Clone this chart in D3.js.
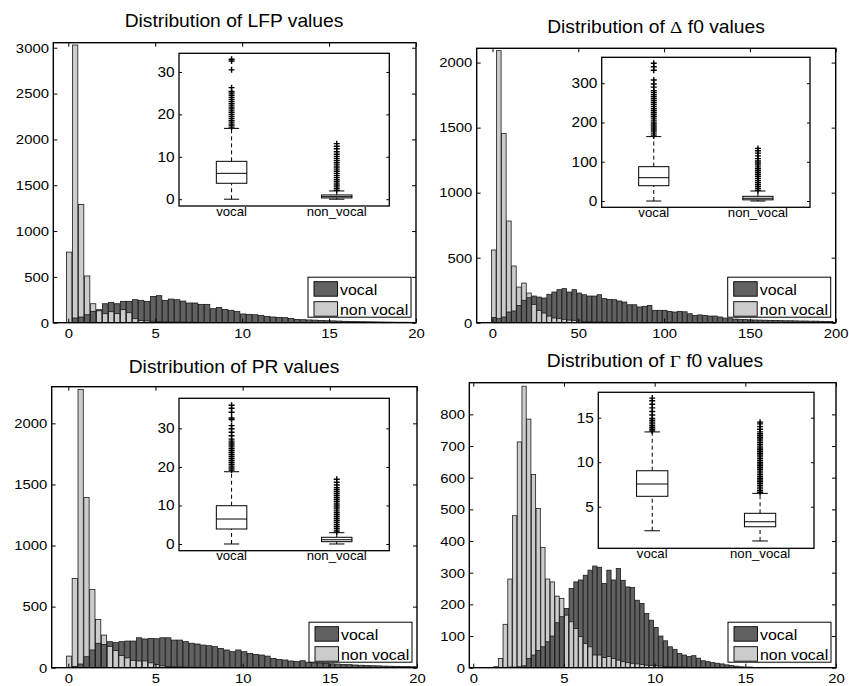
<!DOCTYPE html>
<html>
<head>
<meta charset="utf-8">
<script src="https://cdn.jsdelivr.net/npm/d3@7"></script>
<style>
  body { margin: 0; background: #fff; }
  text { font-family: "Liberation Sans", Arial, sans-serif; fill: #000; }
</style>
</head>
<body>
<svg id="chart" width="849" height="686"></svg>
<script>
// series / category names
const seriesNames = ["vocal", "non vocal"];
const boxCategories = ["vocal", "non_vocal"];

// LFP histogram (bin centres start at 0.05, width 0.345)
const lfpBins = { start: 0.05, width: 0.345 };
const lfpVocal = [0, 51, 62, 87, 124, 142, 207, 222, 207, 233, 233, 251, 244, 233, 287, 295, 244, 258, 251, 236,
  215, 215, 200, 200, 153, 167, 145, 135, 124, 95, 91, 87, 80, 69, 62, 58, 55, 47, 36, 33,
  30, 28, 25, 22, 20, 18, 15, 14, 12, 11, 10, 9, 8, 7, 6, 5, 5, 4];
const lfpNonVocal = [770, 3030, 1290, 510, 207, 130, 98, 120, 98, 142, 109, 44, 25, 20, 15, 12, 10, 8, 7, 6,
  5, 4, 3, 3, 2, 2, 2, 1, 1, 1, 1, 1];

// delta f0 histogram (start 0.77, width 2.93)
const dfBins = { start: 0.77, width: 2.93 };
const dfVocal = [40, 31, 44, 82, 90, 133, 172, 192, 205, 197, 190, 218, 236, 254, 262, 236, 254, 228, 215, 205,
  205, 215, 185, 179, 177, 167, 159, 138, 138, 121, 126, 133, 95, 95, 95, 87, 82, 87, 84, 69,
  56, 60, 56, 51, 51, 44, 36, 31, 28, 26, 24, 22, 21, 20, 19, 18, 17, 16, 15, 15,
  14, 13, 13, 12, 12, 11, 10, 10];
const dfNonVocal = [559, 2092, 1456, 782, 436, 274, 305, 228, 141, 95, 74, 51, 36, 31, 26, 20, 18, 12, 10, 8,
  6, 5, 4, 3, 3, 2, 2, 1, 1, 1];

// PR histogram (start 0.04, width 0.335)
const prBins = { start: 0.04, width: 0.335 };
const prVocal = [0, 10, 30, 90, 145, 200, 190, 213, 205, 213, 218, 218, 245, 235, 240, 237, 245, 245, 226, 226,
  213, 200, 194, 185, 180, 172, 158, 145, 131, 145, 131, 117, 109, 104, 95, 76, 68, 63, 55, 50,
  57, 45, 40, 37, 35, 32, 30, 27, 25, 22, 20, 18, 16, 15, 13, 12, 11, 10, 9, 8];
const prNonVocal = [95, 731, 2277, 1393, 641, 395, 267, 175, 140, 100, 80, 60, 55, 55, 40, 25, 15, 10, 8, 6,
  5, 4, 3, 3, 2, 2, 1, 1, 1];

// gamma f0 histogram (start 0.2, width 0.26)
const gfBins = { start: 0.2, width: 0.26 };
const gfVocal = [0, 0, 0, 0, 0, 1, 1, 2, 2, 3, 6, 29, 40, 54, 66, 82, 100, 142, 161, 187,
  250, 271, 277, 292, 308, 321, 317, 266, 308, 277, 313, 276, 255, 253, 213, 203, 171, 150, 127, 100,
  85, 66, 58, 45, 40, 35, 38, 30, 22, 19, 16, 14, 12, 9, 7, 5, 3, 2, 2, 1,
  1, 1];
const gfNonVocal = [0, 0, 0, 0, 3, 29, 137, 280, 480, 713, 889, 785, 610, 503, 380, 280, 271, 226, 219, 166,
  145, 124, 98, 76, 66, 40, 40, 32, 35, 29, 24, 19, 16, 14, 12, 10, 8, 7, 6, 5,
  4, 3, 3, 2, 2, 1, 1];

// boxplot stats: [lower whisker, q1, median, q3, upper whisker]
const lfpBoxVocal = [0, 3.76, 6.1, 8.93, 16.7];
const lfpBoxNonVocal = [0, 0.3, 0.6, 1.0, 1.95];
const lfpOutVocal = [17, 17.5, 18, 18.5, 19, 19.5, 20, 20.5, 21, 21.5, 22, 22.5, 23, 23.5, 24, 24.5, 25, 25.4, 26.3, 30.5, 32.6, 33.0];
const lfpOutNonVocal = [2.1, 2.6, 3.1, 3.6, 4.1, 4.6, 5.1, 5.6, 6.1, 6.6, 7.1, 7.6, 8.1, 8.6, 9.1, 9.6, 10.1, 10.6, 11.2, 11.9, 12.5, 13.1];

const dfBoxVocal = [0, 39, 59.4, 87.5, 164];
const dfBoxNonVocal = [0, 3, 7, 12, 25.5];
const dfOutVocal = [166, 171, 176, 181, 186, 191, 196, 201, 206, 211, 216, 221, 226, 231, 236, 241, 246, 251, 256, 261,
  266, 271, 276, 281, 290, 298, 308, 333, 342, 351];
const dfOutNonVocal = [27, 32, 37, 42, 47, 52, 57, 62, 67, 72, 77, 82, 87, 92, 97, 102, 108, 115, 122, 128, 134];

const prBoxVocal = [0, 3.89, 6.48, 9.93, 18.75];
const prBoxNonVocal = [0, 0.6, 1.1, 1.74, 2.93];
const prOutVocal = [19.2, 19.7, 20.2, 20.7, 21.2, 21.7, 22.2, 22.7, 23.2, 23.7, 24.2, 24.7, 25.2, 25.7, 26.2, 26.7, 27.2,
  28.1, 29.0, 29.9, 30.7, 32.3, 32.7, 34.2, 35.2, 36.0];
const prOutNonVocal = [3.1, 3.6, 4.1, 4.6, 5.1, 5.6, 6.1, 6.6, 7.1, 7.6, 8.1, 8.6, 9.1, 9.6, 10.1, 10.6, 11.1, 11.6, 12.1,
  12.6, 13.1, 13.6, 14.1, 14.6, 15.3, 16.0, 16.8];

const gfBoxVocal = [2.3, 6.17, 7.55, 9.04, 13.4];
const gfBoxNonVocal = [1.15, 2.75, 3.31, 4.26, 6.5];
const gfOutVocal = [13.5, 13.7, 13.9, 14.1, 14.3, 14.5, 14.7, 14.9, 15.3, 15.7, 16.1, 16.5, 16.9, 17.2];
const gfOutNonVocal = [6.6, 6.8, 7.0, 7.2, 7.4, 7.6, 7.8, 8.0, 8.2, 8.4, 8.6, 8.8, 9.0, 9.2, 9.4, 9.6, 9.8, 10.0,
  10.2, 10.4, 10.6, 10.8, 11.0, 11.2, 11.4, 11.6, 11.8, 12.0, 12.2, 12.4, 12.6, 12.8, 13.0, 13.2, 13.4,
  13.7, 14.0, 14.3, 14.5];

// tick values
const ticks0to20 = [0, 5, 10, 15, 20];
const ticks0to200 = [0, 50, 100, 150, 200];

const seriesFill = ["#616161", "#cccccc"];
const SX = 1.1; // glyphs in the picture are a bit wide

const panels = [
  {
    title: [{ s: "Distribution of LFP values" }], titleX: 234, titleY: 27.3,
    frame: { l: 53.3, r: 416, t: 42.7, b: 322.7 }, xDomain: [-0.86, 20], yMax: 3055,
    xTicks: ticks0to20, yTicks: d3.range(0, 3001, 500),
    bins: lfpBins, vocal: lfpVocal, nonVocal: lfpNonVocal,
    inset: { l: 179, r: 389.3, t: 53.3, b: 206, yDomain: [-1.6, 34.4], yTicks: [0, 10, 20, 30] },
    boxes: [lfpBoxVocal, lfpBoxNonVocal], outliers: [lfpOutVocal, lfpOutNonVocal]
  },
  {
    title: [{ s: "Distribution of " }, { s: "\u0394", greek: true }, { s: " f0 values" }], titleX: 656, titleY: 32.7,
    frame: { l: 476.7, r: 835.7, t: 48.3, b: 322.7 }, xDomain: [-9.2, 200], yMax: 2110,
    xTicks: ticks0to200, yTicks: d3.range(0, 2001, 500),
    bins: dfBins, vocal: dfVocal, nonVocal: dfNonVocal,
    inset: { l: 601.7, r: 810, t: 57.3, b: 207.3, yDomain: [-16, 366], yTicks: [0, 100, 200, 300] },
    boxes: [dfBoxVocal, dfBoxNonVocal], outliers: [dfOutVocal, dfOutNonVocal]
  },
  {
    title: [{ s: "Distribution of PR values" }], titleX: 234, titleY: 373.3,
    frame: { l: 51.7, r: 417, t: 386.7, b: 667.7 }, xDomain: [-0.95, 20], yMax: 2300,
    xTicks: ticks0to20, yTicks: d3.range(0, 2001, 500),
    bins: prBins, vocal: prVocal, nonVocal: prNonVocal,
    inset: { l: 179, r: 389.3, t: 398.3, b: 550.7, yDomain: [-1.74, 37.8], yTicks: [0, 10, 20, 30] },
    boxes: [prBoxVocal, prBoxNonVocal], outliers: [prOutVocal, prOutNonVocal]
  },
  {
    title: [{ s: "Distribution of " }, { s: "\u0393", greek: true }, { s: " f0 values" }], titleX: 655, titleY: 366.7,
    frame: { l: 469.3, r: 836, t: 382.7, b: 667.7 }, xDomain: [-0.22, 20], yMax: 900,
    xTicks: ticks0to20, yTicks: d3.range(0, 801, 100),
    bins: gfBins, vocal: gfVocal, nonVocal: gfNonVocal,
    inset: { l: 598.3, r: 814, t: 392.3, b: 548.3, yDomain: [0.33, 17.85], yTicks: [5, 10, 15] },
    boxes: [gfBoxVocal, gfBoxNonVocal], outliers: [gfOutVocal, gfOutNonVocal]
  }
];

const svg = d3.select("#chart");

function styleAxis(g, size, showText) {
  g.attr("font-size", null).attr("font-family", null);
  g.select(".domain").remove();
  g.selectAll(".tick line").attr("stroke", "#000");
  g.selectAll("text")
    .attr("font-size", size)
    .attr("transform", `scale(${SX},1)`)
    .style("display", showText ? null : "none");
}

function drawPanel(p, idx) {
  const f = p.frame;
  const x = d3.scaleLinear().domain(p.xDomain).range([f.l, f.r]);
  const y = d3.scaleLinear().domain([0, p.yMax]).range([f.b, f.t]);

  // title
  const t = svg.append("text")
    .attr("transform", `translate(${p.titleX},${p.titleY}) scale(${SX},1)`)
    .attr("text-anchor", "middle")
    .attr("font-size", 17.5);
  p.title.forEach(part => {
    t.append("tspan")
      .style("font-family", part.greek ? "'Liberation Serif', 'Times New Roman', serif" : null)
      .text(part.s);
  });

  const clipId = "clip" + idx;
  svg.append("clipPath").attr("id", clipId)
    .append("rect")
    .attr("x", f.l).attr("y", f.t)
    .attr("width", f.r - f.l).attr("height", f.b - f.t);

  // both histograms; the shorter bar of each bin sits in front
  const bars = [];
  p.vocal.forEach((v, i) => bars.push({ c: p.bins.start + i * p.bins.width, v: v, s: 0 }));
  p.nonVocal.forEach((v, i) => bars.push({ c: p.bins.start + i * p.bins.width, v: v, s: 1 }));
  bars.sort((a, b) => b.v - a.v);
  const hw = p.bins.width * 0.45;

  svg.append("g").attr("clip-path", `url(#${clipId})`)
    .selectAll("rect")
    .data(bars.filter(d => d.v > 0))
    .join("rect")
    .attr("x", d => x(d.c - hw))
    .attr("width", d => x(d.c + hw) - x(d.c - hw))
    .attr("y", d => y(d.v))
    .attr("height", d => y(0) - y(d.v))
    .attr("fill", d => seriesFill[d.s])
    .attr("stroke", "#1a1a1a")
    .attr("stroke-width", 0.8);

  // axes, ticks pointing inwards on all sides
  svg.append("g").attr("transform", `translate(0,${f.b})`)
    .call(d3.axisBottom(x).tickValues(p.xTicks).tickSizeInner(-4).tickSizeOuter(0).tickPadding(6))
    .call(g => styleAxis(g, 13.5, true));
  svg.append("g").attr("transform", `translate(0,${f.t})`)
    .call(d3.axisTop(x).tickValues(p.xTicks).tickSizeInner(-4).tickSizeOuter(0))
    .call(g => styleAxis(g, 13.5, false));
  svg.append("g").attr("transform", `translate(${f.l},0)`)
    .call(d3.axisLeft(y).tickValues(p.yTicks).tickFormat(d3.format("d")).tickSizeInner(-4).tickSizeOuter(0).tickPadding(4))
    .call(g => styleAxis(g, 13.5, true));
  svg.append("g").attr("transform", `translate(${f.r},0)`)
    .call(d3.axisRight(y).tickValues(p.yTicks).tickSizeInner(-4).tickSizeOuter(0))
    .call(g => styleAxis(g, 13.5, false));

  svg.append("rect")
    .attr("x", f.l).attr("y", f.t)
    .attr("width", f.r - f.l).attr("height", f.b - f.t)
    .attr("fill", "none").attr("stroke", "#000").attr("stroke-width", 1.4);

  // legend
  const lw = 103, lh = 40;
  const lx = f.r - 5 - lw, ly = f.b - 5.5 - lh;
  const lg = svg.append("g").attr("transform", `translate(${lx},${ly})`);
  lg.append("rect").attr("width", lw).attr("height", lh)
    .attr("fill", "#fff").attr("stroke", "#000").attr("stroke-width", 1);
  seriesNames.forEach((name, i) => {
    lg.append("rect")
      .attr("x", 6).attr("y", 4.5 + i * 20)
      .attr("width", 23.5).attr("height", 14.5)
      .attr("fill", seriesFill[i]).attr("stroke", "#000").attr("stroke-width", 0.9);
    lg.append("text")
      .attr("transform", `translate(32,${18 + i * 20}) scale(${SX},1)`)
      .attr("font-size", 14.5)
      .text(name);
  });

  drawInset(p);
}

function drawInset(p) {
  const ins = p.inset;
  const bx = d3.scalePoint().domain(boxCategories).range([ins.l, ins.r]).padding(0.5);
  const by = d3.scaleLinear().domain(ins.yDomain).range([ins.b, ins.t]);
  const boxW = bx.step() * 0.29;
  const capW = boxW * 0.5;

  svg.append("rect")
    .attr("x", ins.l).attr("y", ins.t)
    .attr("width", ins.r - ins.l).attr("height", ins.b - ins.t)
    .attr("fill", "#fff");

  const g = svg.append("g");
  boxCategories.forEach((cat, k) => {
    const s = p.boxes[k];
    const cx = bx(cat);
    // dashed whiskers
    [[s[0], s[1]], [s[3], s[4]]].forEach(seg => {
      g.append("line")
        .attr("x1", cx).attr("x2", cx)
        .attr("y1", by(seg[0])).attr("y2", by(seg[1]))
        .attr("stroke", "#000").attr("stroke-width", 1)
        .attr("stroke-dasharray", "4,3");
    });
    // caps
    [s[0], s[4]].forEach(v => {
      g.append("line")
        .attr("x1", cx - capW / 2).attr("x2", cx + capW / 2)
        .attr("y1", by(v)).attr("y2", by(v))
        .attr("stroke", "#000").attr("stroke-width", 1);
    });
    g.append("rect")
      .attr("x", cx - boxW / 2).attr("width", boxW)
      .attr("y", by(s[3])).attr("height", by(s[1]) - by(s[3]))
      .attr("fill", "#fff").attr("stroke", "#000").attr("stroke-width", 1);
    g.append("line")
      .attr("x1", cx - boxW / 2).attr("x2", cx + boxW / 2)
      .attr("y1", by(s[2])).attr("y2", by(s[2]))
      .attr("stroke", "#000").attr("stroke-width", 1);
    // outliers
    g.append("g").selectAll("path")
      .data(p.outliers[k])
      .join("path")
      .attr("transform", d => `translate(${cx},${by(d)})`)
      .attr("d", "M-3,0H3M0,-3V3")
      .attr("stroke", "#000").attr("stroke-width", 1.4);

    g.append("text")
      .attr("transform", `translate(${cx},${ins.b + 9.5}) scale(${SX},1)`)
      .attr("text-anchor", "middle")
      .attr("font-size", 12)
      .text(cat);
  });

  svg.append("g").attr("transform", `translate(${ins.l},0)`)
    .call(d3.axisLeft(by).tickValues(ins.yTicks).tickSizeInner(-3).tickSizeOuter(0).tickPadding(4))
    .call(a => styleAxis(a, 14, true));
  svg.append("g").attr("transform", `translate(${ins.r},0)`)
    .call(d3.axisRight(by).tickValues(ins.yTicks).tickSizeInner(-3).tickSizeOuter(0))
    .call(a => styleAxis(a, 14, false));

  svg.append("rect")
    .attr("x", ins.l).attr("y", ins.t)
    .attr("width", ins.r - ins.l).attr("height", ins.b - ins.t)
    .attr("fill", "none").attr("stroke", "#000").attr("stroke-width", 1.3);
}

panels.forEach(drawPanel);
</script>
</body>
</html>
